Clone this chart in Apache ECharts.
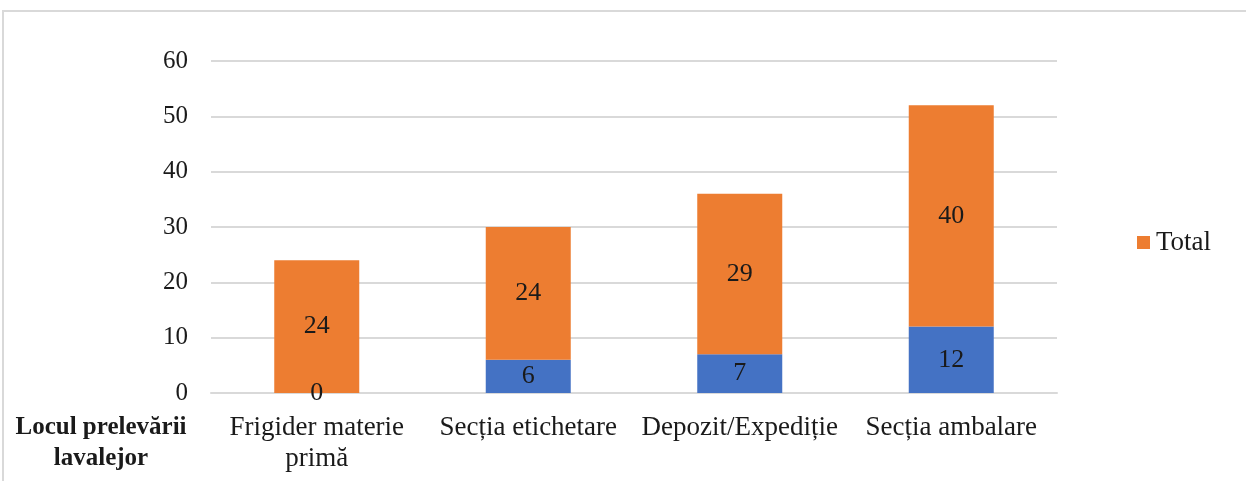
<!DOCTYPE html>
<html lang="ro">
<head>
    <meta charset="UTF-8">
    <title>Locul prelevării lavalejor</title>
    <script src="https://cdn.jsdelivr.net/npm/echarts@6/dist/echarts.min.js"></script>
    <style>
        html, body { margin: 0; padding: 0; background: #fff; }
        #chart { width: 1246px; height: 481px; }
    </style>
</head>
<body>
<div id="chart"></div>
<script type="text/javascript">
    // date
    var categories = ['Frigider materie\nprimă', 'Secția etichetare', 'Depozit/Expediție', 'Secția ambalare'];
    var blueValues = [0, 6, 7, 12];
    var totalValues = [24, 24, 29, 40];
    var yTicks = [0, 10, 20, 30, 40, 50, 60];

    var font = '"Liberation Serif", "DejaVu Serif", serif';
    var chart = echarts.init(document.getElementById('chart'));

    var labelStyle = {
        show: true,
        position: 'inside',
        color: '#1a1a1a',
        fontFamily: font,
        fontSize: 26
    };

    var option = {
        animation: false,
        graphic: [{
            type: 'rect',
            shape: { x: 3, y: 11, width: 1400, height: 600 },
            style: { fill: 'none', stroke: '#d9d9d9', lineWidth: 2 },
            silent: true
        }, {
            type: 'text',
            x: 101,
            y: 412,
            style: {
                text: 'Locul prelevării\nlavalejor',
                fontFamily: font,
                fontSize: 25,
                fontWeight: 'bold',
                lineHeight: 31,
                fill: '#1a1a1a',
                align: 'center'
            }
        }],
        legend: {
            data: ['Total'],
            left: 1132,
            top: 224,
            itemWidth: 13,
            itemHeight: 13,
            itemGap: 6,
            icon: 'rect',
            textStyle: { fontFamily: font, fontSize: 27, color: '#1a1a1a', padding: [0, 0, 0, 1] }
        },
        grid: {
            left: 211,
            right: 189,
            top: 61,
            bottom: 88
        },
        xAxis: {
            type: 'category',
            data: categories,
            axisLine: { lineStyle: { color: '#d9d9d9', width: 2 } },
            axisTick: { show: false },
            axisLabel: {
                fontFamily: font,
                fontSize: 27,
                color: '#1a1a1a',
                lineHeight: 31,
                margin: 19,
                interval: 0
            }
        },
        yAxis: {
            type: 'value',
            min: yTicks[0],
            max: yTicks[yTicks.length - 1],
            interval: 10,
            axisLine: { show: false },
            axisTick: { show: false },
            splitLine: { lineStyle: { color: '#d9d9d9', width: 2 } },
            axisLabel: {
                fontFamily: font,
                fontSize: 25,
                color: '#1a1a1a',
                margin: 23
            }
        },
        series: [{
            name: 'Număr',
            type: 'bar',
            stack: 'a',
            barWidth: 85,
            data: blueValues,
            itemStyle: { color: '#4472c4' },
            label: labelStyle
        }, {
            name: 'Total',
            type: 'bar',
            stack: 'a',
            barWidth: 85,
            data: totalValues,
            itemStyle: { color: '#ed7d31' },
            label: labelStyle
        }]
    };
    chart.setOption(option);
</script>
</body>
</html>
